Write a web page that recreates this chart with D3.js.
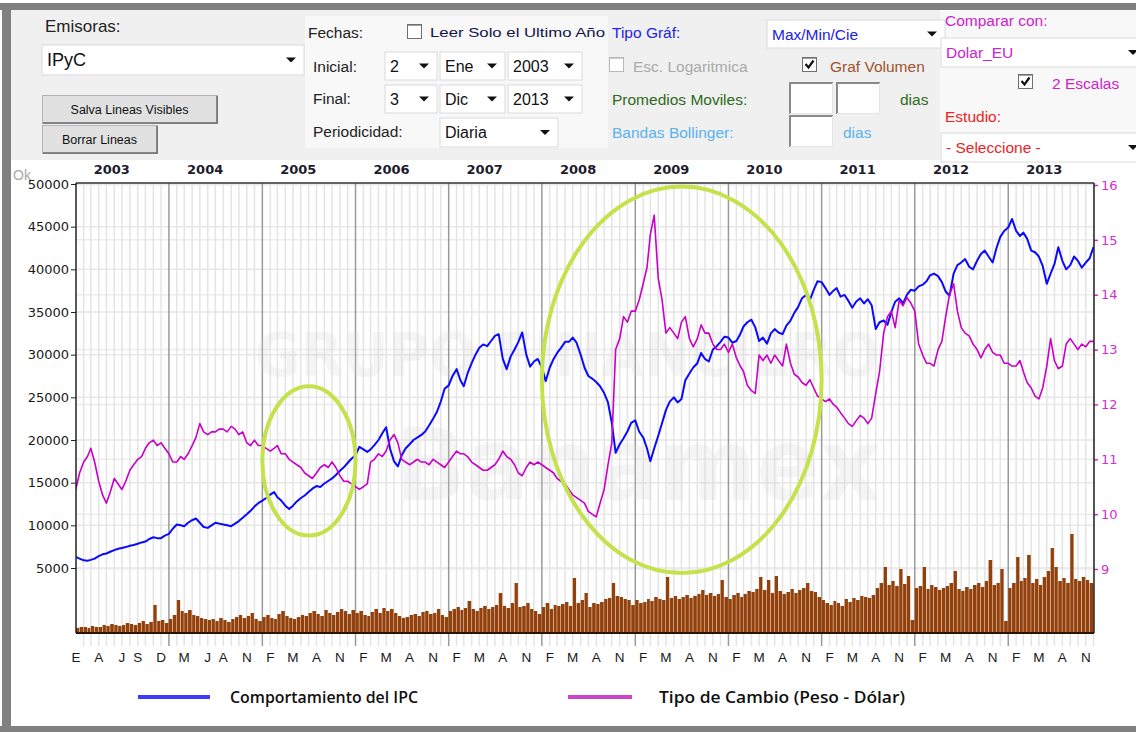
<!DOCTYPE html>
<html>
<head>
<meta charset="utf-8">
<script src="https://cdn.jsdelivr.net/npm/d3@7"></script>
<style>
  body { margin: 0; background: #fff; }
  svg { display: block; font-family: "Liberation Sans", Arial, sans-serif; }
</style>
</head>
<body>
<svg id="chart" width="1136" height="732"></svg>
<script>
// Datos: valores quincenales (día 1 y 16 de cada mes), ene-2003 a dic-2013.
const yearLabels = [2003, 2004, 2005, 2006, 2007, 2008, 2009, 2010, 2011, 2012, 2013];
const monthInitials = ["E", "F", "M", "A", "M", "J", "J", "A", "S", "O", "N", "D"];
const monthTicks = [
  "2003-01", "2003-04", "2003-07", "2003-09", "2003-12",
  "2004-03", "2004-06", "2004-08", "2004-11",
  "2005-02", "2005-05", "2005-08", "2005-11",
  "2006-02", "2006-05", "2006-08", "2006-11",
  "2007-02", "2007-05", "2007-08", "2007-11",
  "2008-02", "2008-05", "2008-08", "2008-11",
  "2009-02", "2009-05", "2009-08", "2009-11",
  "2010-02", "2010-05", "2010-08", "2010-11",
  "2011-02", "2011-05", "2011-08", "2011-11",
  "2012-02", "2012-05", "2012-08", "2012-11",
  "2013-02", "2013-05", "2013-08", "2013-11"
];
const ipcTicks = [5000, 10000, 15000, 20000, 25000, 30000, 35000, 40000, 45000, 50000];
const fxTicks = [9, 10, 11, 12, 13, 14, 15, 16];

// Comportamiento del IPC (puntos)
const ipcValues = [
  6300, 6100, 5900, 5850, 5950, 6100, 6400, 6600, 6700, 6900, 7100, 7250, 7350, 7450, 7600, 7700, 7850, 8000, 8100, 8400, 8600, 8500, 8500, 8800,
  9000, 9600, 10100, 10000, 9900, 10300, 10600, 10800, 10300, 9800, 9700, 10000, 10300, 10200, 10100, 10000, 9900, 10200, 10500, 10900, 11300, 11700, 12200, 12600,
  12900, 13200, 13600, 13900, 13300, 12900, 12300, 11900, 12300, 12800, 13200, 13500, 13900, 14300, 14600, 14500, 14900, 15200, 15500, 15900, 16400, 16800, 17300, 17800,
  18200, 19200, 18900, 18600, 18900, 19400, 20000, 20800, 21500, 19000, 17500, 16900, 18200, 19000, 19500, 20000, 20300, 20600, 21000, 21700, 22500, 23300, 24500, 26000,
  26400, 27500, 28300, 27000, 26300, 27800, 29000, 30000, 30800, 31200, 31000, 31600, 32200, 32400, 29500, 28300, 29800, 30600, 31500, 32600, 30000, 28600, 29200, 29500,
  28500, 26900, 28500, 29500, 30200, 30800, 31500, 31500, 32000, 31400, 30000, 28500, 27500, 27200, 26800, 26300, 25500, 24400, 22000, 18500, 19500, 20200, 21000, 22000,
  22300, 21000, 20300, 19000, 17500, 19000, 20500, 22000, 23500, 24500, 25000, 24400, 24800, 27000, 27800, 28500, 29000, 30200, 29500, 29200, 30600, 31000, 31500, 32100,
  32000, 31400, 31600, 32400, 33300, 33800, 34100, 33200, 31600, 32000, 31300, 32500, 33000, 32600, 32400, 33400, 34000, 34900, 35600, 36600, 37000, 36400, 37600, 38600,
  38500, 37800, 37000, 37500, 37800, 36800, 37000, 36300, 35500, 36200, 36600, 36000, 36500, 35800, 33000, 33800, 34000, 33500, 35000, 36200, 36600, 36000, 37000, 37600,
  37500, 38000, 38200, 38600, 39300, 39500, 39200, 38500, 37400, 36900, 39500, 40500, 40800, 41200, 40300, 40000, 41000, 41800, 42200, 41500, 40800, 42500, 43800, 44500,
  44900, 45900, 44500, 43900, 44300, 43600, 42200, 42000, 41500, 40400, 38300, 39500, 40600, 42600, 41000, 40000, 40500, 41500, 41000, 40200, 40800, 41300, 42600
];

// Tipo de Cambio (Peso - Dólar)
const fxValues = [
  10.45, 10.75, 10.95, 11.05, 11.2, 10.95, 10.6, 10.35, 10.2, 10.4, 10.65, 10.55, 10.45, 10.6, 10.8, 10.9, 11.0, 11.05, 11.2, 11.3, 11.35, 11.25, 11.3, 11.2,
  11.1, 10.95, 10.95, 11.05, 11.0, 11.1, 11.25, 11.4, 11.65, 11.5, 11.45, 11.5, 11.5, 11.55, 11.55, 11.5, 11.6, 11.55, 11.45, 11.5, 11.3, 11.25, 11.35, 11.25,
  11.25, 11.2, 11.15, 11.2, 11.25, 11.1, 11.1, 11.0, 10.95, 10.9, 10.85, 10.75, 10.7, 10.65, 10.75, 10.85, 10.9, 10.85, 10.95, 10.85, 10.7, 10.6, 10.6, 10.55,
  10.5, 10.45, 10.5, 10.55, 10.95, 11.0, 11.1, 11.05, 11.15, 11.35, 11.45, 11.3, 11.0, 10.95, 10.9, 10.95, 11.0, 10.95, 10.95, 10.9, 11.0, 10.95, 10.9, 10.85,
  10.95, 11.05, 11.15, 11.1, 11.1, 11.05, 10.95, 10.9, 10.85, 10.8, 10.8, 10.85, 10.9, 11.0, 11.15, 11.05, 11.0, 10.9, 10.75, 10.7, 10.85, 10.95, 10.9, 10.95,
  10.9, 10.85, 10.8, 10.75, 10.65, 10.6, 10.55, 10.45, 10.35, 10.3, 10.25, 10.2, 10.05, 10.0, 9.95, 10.2, 10.45, 10.9, 11.3, 13.0, 13.2, 13.6, 13.5, 13.7,
  13.7, 13.9, 14.2, 14.5, 15.1, 15.45, 14.3, 13.9, 13.3, 13.4, 13.3, 13.2, 13.5, 13.6, 13.2, 13.05, 13.2, 13.45, 13.3, 13.3, 13.1, 13.0, 13.0, 13.1,
  12.95, 13.1, 12.85, 12.7, 12.6, 12.35, 12.25, 12.2, 12.9, 12.8, 12.9, 12.75, 12.9, 12.8, 12.7, 13.1, 12.75, 12.55, 12.5, 12.4, 12.35, 12.45, 12.3, 12.15,
  12.1, 12.05, 12.1, 12.0, 11.95, 11.85, 11.75, 11.65, 11.6, 11.7, 11.8, 11.75, 11.65, 11.75, 12.2, 12.6, 13.3, 13.6, 13.7, 13.4, 13.9, 13.8, 13.95, 13.85,
  13.7, 13.1, 12.9, 12.75, 12.75, 12.7, 13.0, 13.15, 13.6, 14.0, 14.2, 13.7, 13.4, 13.3, 13.25, 13.1, 13.0, 12.85, 13.0, 13.1, 12.95, 12.9, 12.9, 12.75,
  12.75, 12.7, 12.7, 12.8, 12.6, 12.4, 12.3, 12.15, 12.1, 12.3, 12.7, 13.2, 12.8, 12.65, 12.7, 13.1, 13.2, 13.1, 13.0, 13.1, 13.05, 13.15, 13.15
];

// Volumen (unidades relativas, sin escala en la gráfica)
const volumeValues = [
  5, 6, 6, 5, 7, 6, 6, 8, 7, 9, 8, 7, 8, 10, 9, 8, 10, 12, 9, 11, 28, 12, 13, 10,
  14, 18, 33, 22, 20, 23, 18, 17, 15, 14, 13, 14, 12, 15, 13, 11, 14, 16, 18, 15, 17, 20, 14, 12,
  16, 18, 15, 14, 19, 22, 17, 15, 14, 16, 18, 17, 20, 22, 19, 17, 23, 20, 18, 21, 24, 22, 19, 23,
  20, 22, 18, 17, 21, 24, 20, 25, 22, 24, 20, 17, 15, 16, 18, 19, 17, 21, 22, 19, 20, 24, 18, 16,
  22, 24, 26, 23, 25, 32, 24, 22, 25, 27, 24, 26, 28, 40, 27, 25, 30, 50, 26, 27, 30, 24, 22, 19,
  26, 30, 24, 28, 27, 29, 31, 27, 55, 30, 33, 40, 26, 30, 29, 31, 34, 35, 50, 37, 36, 34, 33, 28,
  33, 30, 31, 34, 32, 36, 34, 33, 56, 35, 37, 34, 36, 38, 35, 37, 39, 43, 38, 40, 37, 39, 53, 36,
  34, 38, 40, 36, 39, 42, 41, 44, 56, 43, 53, 40, 57, 42, 39, 41, 44, 40, 43, 45, 50, 42, 41, 36,
  33, 30, 28, 32, 30, 27, 34, 31, 35, 33, 37, 36, 35, 38, 45, 50, 66, 48, 52, 47, 64, 49, 57, 13,
  45, 47, 66, 44, 48, 46, 43, 45, 47, 50, 62, 44, 42, 46, 44, 48, 50, 46, 52, 73, 48, 50, 64, 12,
  45, 50, 76, 52, 55, 78, 50, 54, 48, 56, 62, 85, 66, 52, 55, 50, 99, 54, 52, 56, 53, 50, 48
];

// Óvalos verdes de resaltado (en unidades de datos)
const highlights = [
  { start: "2005-01-01", end: "2006-01-01", low: 8800, high: 26300 },
  { start: "2008-01-01", end: "2011-01-01", low: 4400, high: 49700 }
];

const legendItems = [
  { label: "Comportamiento del IPC", color: "#3c3cff" },
  { label: "Tipo de Cambio (Peso - Dólar)", color: "#cc44cc" }
];

const parseMonth = d3.timeParse("%Y-%m");
const parseDay = d3.timeParse("%Y-%m-%d");
const sampleDate = i => new Date(2003, Math.floor(i / 2), i % 2 ? 16 : 1);

const ipcSeries = ipcValues.map((v, i) => ({ date: sampleDate(i), value: v }));
const fxSeries = fxValues.map((v, i) => ({ date: sampleDate(i), value: v }));
const volSeries = volumeValues.map((v, i) => ({ date: sampleDate(i), next: sampleDate(i + 1), value: v }));

const PLOT = { left: 76, right: 1094, top: 183, bottom: 633 };

const x = d3.scaleTime()
  .domain([new Date(2003, 0, 2), new Date(2013, 11, 3)])
  .range([PLOT.left, PLOT.right]);
const yL = d3.scaleLinear().domain([5000, 50000]).range([568, 184]);
const yR = d3.scaleLinear().domain([9, 16]).range([569, 185]);
const yV = d3.scaleLinear().domain([0, 100]).range([PLOT.bottom, PLOT.bottom - 100]);

const svg = d3.select("#chart");

// ---------- marco y panel de controles ----------
svg.append("rect").attr("width", 1136).attr("height", 732).attr("fill", "#fff");
svg.append("rect").attr("x", 0).attr("y", 3).attr("width", 1136).attr("height", 7).attr("fill", "#808080");
svg.append("rect").attr("x", 2).attr("y", 3).attr("width", 9).attr("height", 729).attr("fill", "#808080");
svg.append("rect").attr("x", 0).attr("y", 726).attr("width", 1136).attr("height", 6).attr("fill", "#808080");
svg.append("rect").attr("x", 11).attr("y", 10).attr("width", 1125).attr("height", 150).attr("fill", "#f0f0f0");
svg.append("rect").attr("x", 305).attr("y", 16).attr("width", 303).attr("height", 132).attr("fill", "#f8f8f8");
svg.append("rect").attr("x", 940).attr("y", 10).attr("width", 196).attr("height", 152).attr("fill", "#f8f8f8");

const panel = svg.append("g");

function label(txt, x0, y0, color, size, extra) {
  const t = panel.append("text")
    .attr("x", x0).attr("y", y0)
    .attr("fill", color)
    .style("font-size", size + "px")
    .text(txt);
  if (extra) extra(t);
  return t;
}

function arrow(g, cx, cy) {
  g.append("path")
    .attr("d", `M${cx - 5},${cy - 2.5} L${cx + 5},${cy - 2.5} L${cx},${cy + 2.5} Z`)
    .attr("fill", "#111");
}

let clipId = 0;
function selectBox(x0, y0, w, h, txt, color, size) {
  const g = panel.append("g");
  g.append("rect")
    .attr("x", x0).attr("y", y0).attr("width", w).attr("height", h)
    .attr("fill", "#fff").attr("stroke", "#dadada").attr("stroke-width", 1);
  const id = "selclip" + (clipId++);
  svg.append("clipPath").attr("id", id)
    .append("rect").attr("x", x0).attr("y", y0).attr("width", w - 22).attr("height", h);
  g.append("text")
    .attr("x", x0 + 5).attr("y", y0 + h / 2 + size * 0.36)
    .attr("fill", color)
    .attr("clip-path", `url(#${id})`)
    .style("font-size", size + "px")
    .text(txt);
  arrow(g, x0 + w - 13, y0 + h / 2);
}

function checkbox(x0, y0, checked, disabled) {
  const g = panel.append("g");
  g.append("rect")
    .attr("x", x0 + 0.5).attr("y", y0 + 0.5).attr("width", 14).attr("height", 14)
    .attr("fill", "#fff")
    .attr("stroke", disabled ? "#b8b8b8" : "#707070");
  g.append("line").attr("x1", x0 + 1).attr("y1", y0 + 1.5).attr("x2", x0 + 14).attr("y2", y0 + 1.5)
    .attr("stroke", disabled ? "#cfcfcf" : "#a0a0a0");
  if (checked) {
    g.append("path")
      .attr("d", `M${x0 + 3.5},${y0 + 7} L${x0 + 6.5},${y0 + 10.5} L${x0 + 11.5},${y0 + 3.5}`)
      .attr("fill", "none").attr("stroke", "#111").attr("stroke-width", 2.2);
  }
}

function inputBox(x0, y0, w, h) {
  const g = panel.append("g");
  g.append("rect").attr("x", x0).attr("y", y0).attr("width", w).attr("height", h).attr("fill", "#fff");
  g.append("path").attr("d", `M${x0 + 1},${y0 + h} L${x0 + 1},${y0 + 1} L${x0 + w},${y0 + 1}`)
    .attr("fill", "none").attr("stroke", "#8a8a8a").attr("stroke-width", 2);
  g.append("path").attr("d", `M${x0 + w - 0.5},${y0 + 1} L${x0 + w - 0.5},${y0 + h - 0.5} L${x0 + 1},${y0 + h - 0.5}`)
    .attr("fill", "none").attr("stroke", "#e4e4e4").attr("stroke-width", 1);
}

function button(x0, y0, w, h, txt) {
  const g = panel.append("g");
  g.append("rect").attr("x", x0 + 0.5).attr("y", y0 + 0.5).attr("width", w).attr("height", h)
    .attr("fill", "#e1e1e1").attr("stroke", "#b4b4b4");
  g.append("path").attr("d", `M${x0 + 1},${y0 + h} L${x0 + w},${y0 + h} L${x0 + w},${y0 + 1}`)
    .attr("fill", "none").attr("stroke", "#6a6a6a").attr("stroke-width", 1.5);
  g.append("text")
    .attr("x", x0 + w / 2).attr("y", y0 + h / 2 + 4.5)
    .attr("text-anchor", "middle").attr("fill", "#111")
    .style("font-size", "12.5px")
    .text(txt);
}

// Emisoras
label("Emisoras:", 45, 32, "#222", 17);
selectBox(42, 45, 262, 30, "IPyC", "#111", 18);
button(42, 95, 175, 28, "Salva Lineas Visibles");
button(42, 125, 115, 28, "Borrar Lineas");

// Fechas
label("Fechas:", 308, 38, "#222", 15.5);
checkbox(407, 24, false, false);
label("Leer Solo el Ultimo Año", 430, 37, "#14144a", 13.5, t => t.attr("textLength", 175).attr("lengthAdjust", "spacingAndGlyphs"));
label("Inicial:", 313, 72, "#222", 15.5);
selectBox(385, 52, 52, 28, "2", "#111", 16);
selectBox(440, 52, 65, 28, "Ene", "#111", 16);
selectBox(508, 52, 74, 28, "2003", "#111", 16);
label("Final:", 313, 104, "#222", 15.5);
selectBox(385, 85, 52, 28, "3", "#111", 16);
selectBox(440, 85, 65, 28, "Dic", "#111", 16);
selectBox(508, 85, 74, 28, "2013", "#111", 16);
label("Periodicidad:", 313, 137, "#222", 15.5);
selectBox(440, 118, 118, 29, "Diaria", "#111", 16);

// Tipo de gráfica
label("Tipo Gráf:", 612, 38, "#2222ee", 15.5);
selectBox(767, 20, 178, 28, "Max/Min/Cie", "#2222dd", 15.5);
checkbox(609, 57, false, true);
panel.append("clipPath").attr("id", "logclip").append("rect").attr("x", 600).attr("y", 50).attr("width", 170).attr("height", 30);
label("Esc. Logaritmica", 633, 72, "#aaaaaa", 15.5, t => t.attr("clip-path", "url(#logclip)"));
checkbox(802, 57, true, false);
label("Graf Volumen", 830, 72, "#a0522d", 15.5);
label("Promedios Moviles:", 612, 105, "#2e6a1c", 15.5);
inputBox(789, 82, 44, 32);
inputBox(836, 82, 44, 32);
label("dias", 900, 105, "#2e6a1c", 15.5);
label("Bandas Bollinger:", 612, 138, "#5ab2ee", 15.5);
inputBox(789, 115, 44, 32);
label("dias", 843, 138, "#5ab2ee", 15.5);

// Comparar
label("Comparar con:", 945, 26, "#cc22cc", 15.5);
selectBox(941, 38, 205, 29, "Dolar_EU", "#cc22cc", 15.5);
checkbox(1018, 74, true, false);
label("2 Escalas", 1052, 89, "#cc22cc", 15.5);
label("Estudio:", 945, 122, "#ee2222", 15.5);
selectBox(941, 133, 205, 29, "- Seleccione -", "#ee2222", 15.5);

// ---------- gráfica ----------
const plot = svg.append("g");

svg.append("clipPath").attr("id", "plotclip")
  .append("rect").attr("x", PLOT.left).attr("y", PLOT.top)
  .attr("width", PLOT.right - PLOT.left).attr("height", PLOT.bottom - PLOT.top);

plot.append("text").attr("x", 13).attr("y", 180).attr("fill", "#a8a8a8")
  .style("font-size", "14px").text("Ok");

// Cuadrícula horizontal (ambas escalas)
plot.append("g").selectAll("line")
  .data(ipcTicks).join("line")
  .attr("x1", PLOT.left).attr("x2", PLOT.right)
  .attr("y1", d => yL(d)).attr("y2", d => yL(d))
  .attr("stroke", "#e6e6e6").attr("stroke-width", 1.5);
plot.append("g").selectAll("line")
  .data(fxTicks).join("line")
  .attr("x1", PLOT.left).attr("x2", PLOT.right)
  .attr("y1", d => yR(d)).attr("y2", d => yR(d))
  .attr("stroke", "#ececec").attr("stroke-width", 1.5);

// Cuadrícula vertical: meses y años
const months = d3.timeMonth.range(new Date(2003, 1, 1), new Date(2013, 11, 2))
  .filter(d => d.getMonth() !== 0);
plot.append("g").selectAll("line")
  .data(months).join("line")
  .attr("x1", d => x(d)).attr("x2", d => x(d))
  .attr("y1", PLOT.top).attr("y2", PLOT.bottom + 13)
  .attr("stroke", "#e4e4e4").attr("stroke-width", 1.5);
const yearStarts = d3.timeYear.range(new Date(2004, 0, 1), new Date(2013, 11, 3));
plot.append("g").selectAll("line")
  .data(yearStarts).join("line")
  .attr("x1", d => x(d)).attr("x2", d => x(d))
  .attr("y1", PLOT.top).attr("y2", PLOT.bottom + 13)
  .attr("stroke", "#9a9a9a").attr("stroke-width", 1.5);

// Marca de agua
const wm = plot.append("g").attr("fill", "#d6d6d6").attr("opacity", 0.22)
  .style("font-family", "'DejaVu Sans', sans-serif").style("font-weight", "bold");
wm.append("text").attr("x", 255).attr("y", 376).style("font-size", "60px")
  .attr("textLength", 625).attr("lengthAdjust", "spacingAndGlyphs").text("GRUPO FINANCIERO");
wm.append("text").attr("x", 395).attr("y", 500).style("font-size", "100px")
  .attr("textLength", 485).attr("lengthAdjust", "spacingAndGlyphs").text("Banamex");

// Etiquetas de año
plot.append("g").selectAll("text")
  .data(yearLabels).join("text")
  .attr("x", d => Math.max(107, x(new Date(d, 4, 22))))
  .attr("y", 174)
  .attr("text-anchor", "middle")
  .attr("fill", "#1c1c2c")
  .style("font-family", "'DejaVu Sans', sans-serif")
  .style("font-weight", "bold")
  .style("font-size", "13px")
  .text(d => d);

const inner = plot.append("g").attr("clip-path", "url(#plotclip)");

// Volumen
inner.append("g").selectAll("rect")
  .data(volSeries).join("rect")
  .attr("x", d => x(d.date))
  .attr("width", d => Math.max(1, x(d.next) - x(d.date) - 0.5))
  .attr("y", d => yV(d.value))
  .attr("height", d => yV(0) - yV(d.value))
  .attr("fill", "#94400a");

// Líneas
inner.append("path")
  .datum(ipcSeries)
  .attr("fill", "none").attr("stroke", "#0a0aff").attr("stroke-width", 2)
  .attr("stroke-linejoin", "round")
  .attr("d", d3.line().x(d => x(d.date)).y(d => yL(d.value)));
inner.append("path")
  .datum(fxSeries)
  .attr("fill", "none").attr("stroke", "#c800c8").attr("stroke-width", 1.6)
  .attr("stroke-linejoin", "round")
  .attr("d", d3.line().x(d => x(d.date)).y(d => yR(d.value)));

// Óvalos de resaltado
plot.append("g").selectAll("ellipse")
  .data(highlights).join("ellipse")
  .attr("cx", d => (x(parseDay(d.start)) + x(parseDay(d.end))) / 2)
  .attr("cy", d => (yL(d.low) + yL(d.high)) / 2)
  .attr("rx", d => (x(parseDay(d.end)) - x(parseDay(d.start))) / 2)
  .attr("ry", d => (yL(d.low) - yL(d.high)) / 2)
  .attr("fill", "none").attr("stroke", "#c3e24c").attr("stroke-width", 4);

// Ejes
const leftAxis = plot.append("g")
  .attr("transform", `translate(${PLOT.left},0)`)
  .call(d3.axisLeft(yL).tickValues(ipcTicks).tickSize(5).tickFormat(d3.format("d")));
leftAxis.select(".domain").remove();
leftAxis.selectAll("line").attr("stroke", "#222");
leftAxis.selectAll("text")
  .attr("fill", "#1a1a1a")
  .style("font-family", "'DejaVu Sans', sans-serif")
  .style("font-size", "13px")
  .attr("x", -7);

const rightAxis = plot.append("g")
  .attr("transform", `translate(${PLOT.right},0)`)
  .call(d3.axisRight(yR).tickValues(fxTicks).tickSize(4).tickFormat(d3.format("d")));
rightAxis.select(".domain").remove();
rightAxis.selectAll("line").attr("stroke", "#d030d0").attr("stroke-width", 1.5);
rightAxis.selectAll("text")
  .attr("fill", "#d030d0")
  .style("font-family", "'DejaVu Sans', sans-serif")
  .style("font-size", "13px")
  .attr("x", 7);

plot.append("line").attr("x1", PLOT.left).attr("x2", PLOT.right)
  .attr("y1", PLOT.top).attr("y2", PLOT.top).attr("stroke", "#333").attr("stroke-width", 1.5);
plot.append("line").attr("x1", PLOT.left).attr("x2", PLOT.right)
  .attr("y1", PLOT.bottom).attr("y2", PLOT.bottom).attr("stroke", "#2a1408").attr("stroke-width", 2);
plot.append("line").attr("x1", PLOT.left).attr("x2", PLOT.left)
  .attr("y1", PLOT.top).attr("y2", PLOT.bottom).attr("stroke", "#222").attr("stroke-width", 1.5);
plot.append("line").attr("x1", PLOT.right).attr("x2", PLOT.right)
  .attr("y1", PLOT.top).attr("y2", PLOT.bottom).attr("stroke", "#222").attr("stroke-width", 1.5);

// Iniciales de mes
plot.append("g").selectAll("text")
  .data(monthTicks.map(parseMonth)).join("text")
  .attr("x", d => Math.max(PLOT.left, x(d)))
  .attr("y", 662)
  .attr("text-anchor", "middle")
  .attr("fill", "#1a1a1a")
  .style("font-size", "13.5px")
  .text(d => monthInitials[d.getMonth()]);

// Leyenda
const legendPos = [{ x1: 138, x2: 210, tx: 230, w: 188 }, { x1: 568, x2: 632, tx: 659, w: 246 }];
const legend = plot.append("g").selectAll("g")
  .data(legendItems).join("g");
legend.append("line")
  .attr("x1", (d, i) => legendPos[i].x1).attr("x2", (d, i) => legendPos[i].x2)
  .attr("y1", 697).attr("y2", 697)
  .attr("stroke", d => d.color).attr("stroke-width", 4);
legend.append("text")
  .attr("x", (d, i) => legendPos[i].tx).attr("y", 703)
  .attr("fill", "#111")
  .style("font-family", "'Open Sans', sans-serif")
  .style("font-weight", "600")
  .style("font-size", "16px")
  .attr("textLength", (d, i) => legendPos[i].w)
  .attr("lengthAdjust", "spacingAndGlyphs")
  .text(d => d.label);
</script>
</body>
</html>
